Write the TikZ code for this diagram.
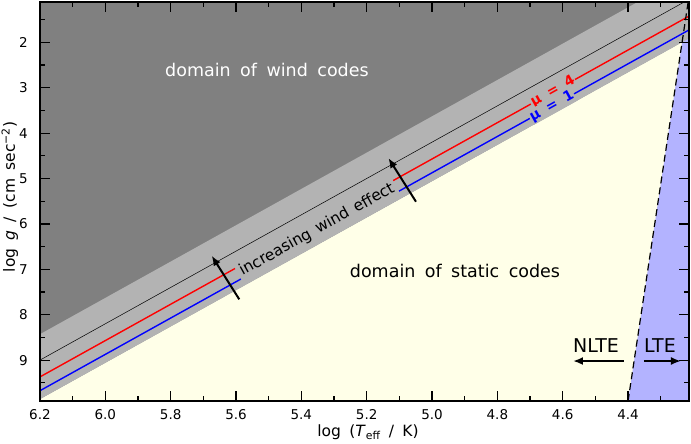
\documentclass[tikz,border=0pt]{standalone}
\usepackage{fontspec}
\setmainfont{DejaVu Sans}[WordSpace=1.7]
\usetikzlibrary{arrows.meta}
\definecolor{windgray}{RGB}{128,128,128}
\definecolor{bandgray}{RGB}{179,179,179}
\definecolor{staticcream}{RGB}{255,255,232}
\definecolor{ltefill}{RGB}{179,179,255}
\begin{document}
\begin{tikzpicture}[x=-326.7pt, y=-45.4pt,
    ticklab/.style={font=\fontsize{13.5}{16}\selectfont, inner sep=0pt},
    axlab/.style={font=\fontsize{15.5}{18}\selectfont, inner sep=0pt},
    domainlab/.style={font=\fontsize{17.5}{20}\selectfont},
    mulab/.style={font=\fontsize{14}{16}\selectfont\bfseries, fill=bandgray, inner sep=1pt, rotate=29.06},
    regime/.style={font=\fontsize{19}{22}\selectfont, inner sep=0pt},
    bigarrow/.style={line width=2pt, -{Latex[length=10pt,width=8pt]}}]
    \useasboundingbox (6.3224,1.0683) rectangle (4.2074,10.826);
    \fill[windgray] (6.2,1.11) rectangle (4.212,9.9);
    \fill[staticcream] (6.2,9.86) -- (4.212,1.908) -- (4.212,9.9) -- (6.2,9.9) -- cycle;
    \fill[ltefill] (4.4,9.9) -- (4.216,1.11) -- (4.212,1.11) -- (4.212,9.9) -- cycle;
    \begin{scope}
        \clip (6.2,1.11) rectangle (4.212,9.9);
        \fill[bandgray] (6.3,{4*6.3-16.37}) -- (4.1,{4*4.1-16.37}) -- (4.1,{4*4.1-14.94}) -- (6.3,{4*6.3-14.94}) -- cycle;
        \draw[line width=0.5pt] (6.3,{4*6.3-15.8}) -- (4.1,{4*4.1-15.8});
        \draw[red, line width=1.4pt] (6.3,{4*6.3-15.43}) -- (4.1,{4*4.1-15.43});
        \draw[blue, line width=1.4pt] (6.3,{4*6.3-15.126}) -- (4.1,{4*4.1-15.126});
    \end{scope}
    \draw[dashed, dash pattern=on 7pt off 4pt, line width=1.2pt] (4.4,9.9) -- (4.216,1.11);
    \node[mulab, text=red] (mu4) at (4.630,3.09) {μ = 4};
    \node[mulab, text=blue] (mu1) at (4.633,3.406) {μ = 1};
    \node[font=\fontsize{15.5}{18}\selectfont, fill=bandgray, inner sep=3pt, rotate=29.06] (wind) at (5.3521,6.130) {increasing\hspace{0.45em}wind\hspace{0.45em}effect};
    \node[domainlab, text=white] (wcode) at (5.5052,2.610) {domain of wind codes};
    \node[domainlab] (scode) at (4.9297,7.026) {domain of static codes};
    \coordinate (w1s) at (5.590,7.661);
    \coordinate (w1e) at (5.6744,6.700);
    \coordinate (w2s) at (5.0491,5.511);
    \coordinate (w2e) at (5.1336,4.548);
    \draw[bigarrow] (w1s) -- (w1e);
    \draw[bigarrow] (w2s) -- (w2e);
    \node[regime] (nlte) at (4.4982,8.678) {NLTE};
    \node[regime] (lte) at (4.3022,8.678) {LTE};
    \coordinate (nl1) at (4.4125,9.02);
    \coordinate (nl2) at (4.5686,9.02);
    \coordinate (lt1) at (4.3513,9.02);
    \coordinate (lt2) at (4.2380,9.02);
    \draw[bigarrow] (nl1) -- (nl2);
    \draw[bigarrow] (lt1) -- (lt2);
    \foreach \t [count=\i] in {6.2,6.0,5.8,5.6,5.4,5.2,5.0,4.8,4.6,4.4} {
        \draw[line width=1.2pt] (\t,9.9) -- ++(0,10pt);
        \draw[line width=1.2pt] (\t,1.11) -- ++(0,-10pt);
        \node[ticklab] (xt\i) at (\t,10.209) {\t};
    }
    \foreach \t in {6.1,5.9,5.7,5.5,5.3,5.1,4.9,4.7,4.5,4.3} {
        \draw[line width=1.2pt] (\t,9.9) -- ++(0,5pt);
        \draw[line width=1.2pt] (\t,1.11) -- ++(0,-5pt);
    }
    \foreach \g in {2,...,9} {
        \draw[line width=1.2pt] (6.2,\g) -- ++(10pt,0);
        \draw[line width=1.2pt] (4.212,\g) -- ++(-10pt,0);
        \node[ticklab, anchor=east] (yt\g) at (6.2367,\g) {\g};
    }
    \foreach \g in {1.5,2.5,3.5,4.5,5.5,6.5,7.5,8.5,9.5} {
        \draw[line width=1.2pt] (6.2,\g) -- ++(5pt,0);
        \draw[line width=1.2pt] (4.212,\g) -- ++(-5pt,0);
    }
    \draw[line width=2pt] (6.2,1.11) rectangle (4.212,9.9);
    \node[axlab, anchor=base] (xlab) at (5.196,10.672) {log (\textit{T}\textsubscript{eff} / K)};
    \node[axlab, anchor=base, rotate=90] (ylab) at (6.2765,5.407) {log \textit{g} / (cm sec\textsuperscript{−2})};
\end{tikzpicture}
\end{document}
